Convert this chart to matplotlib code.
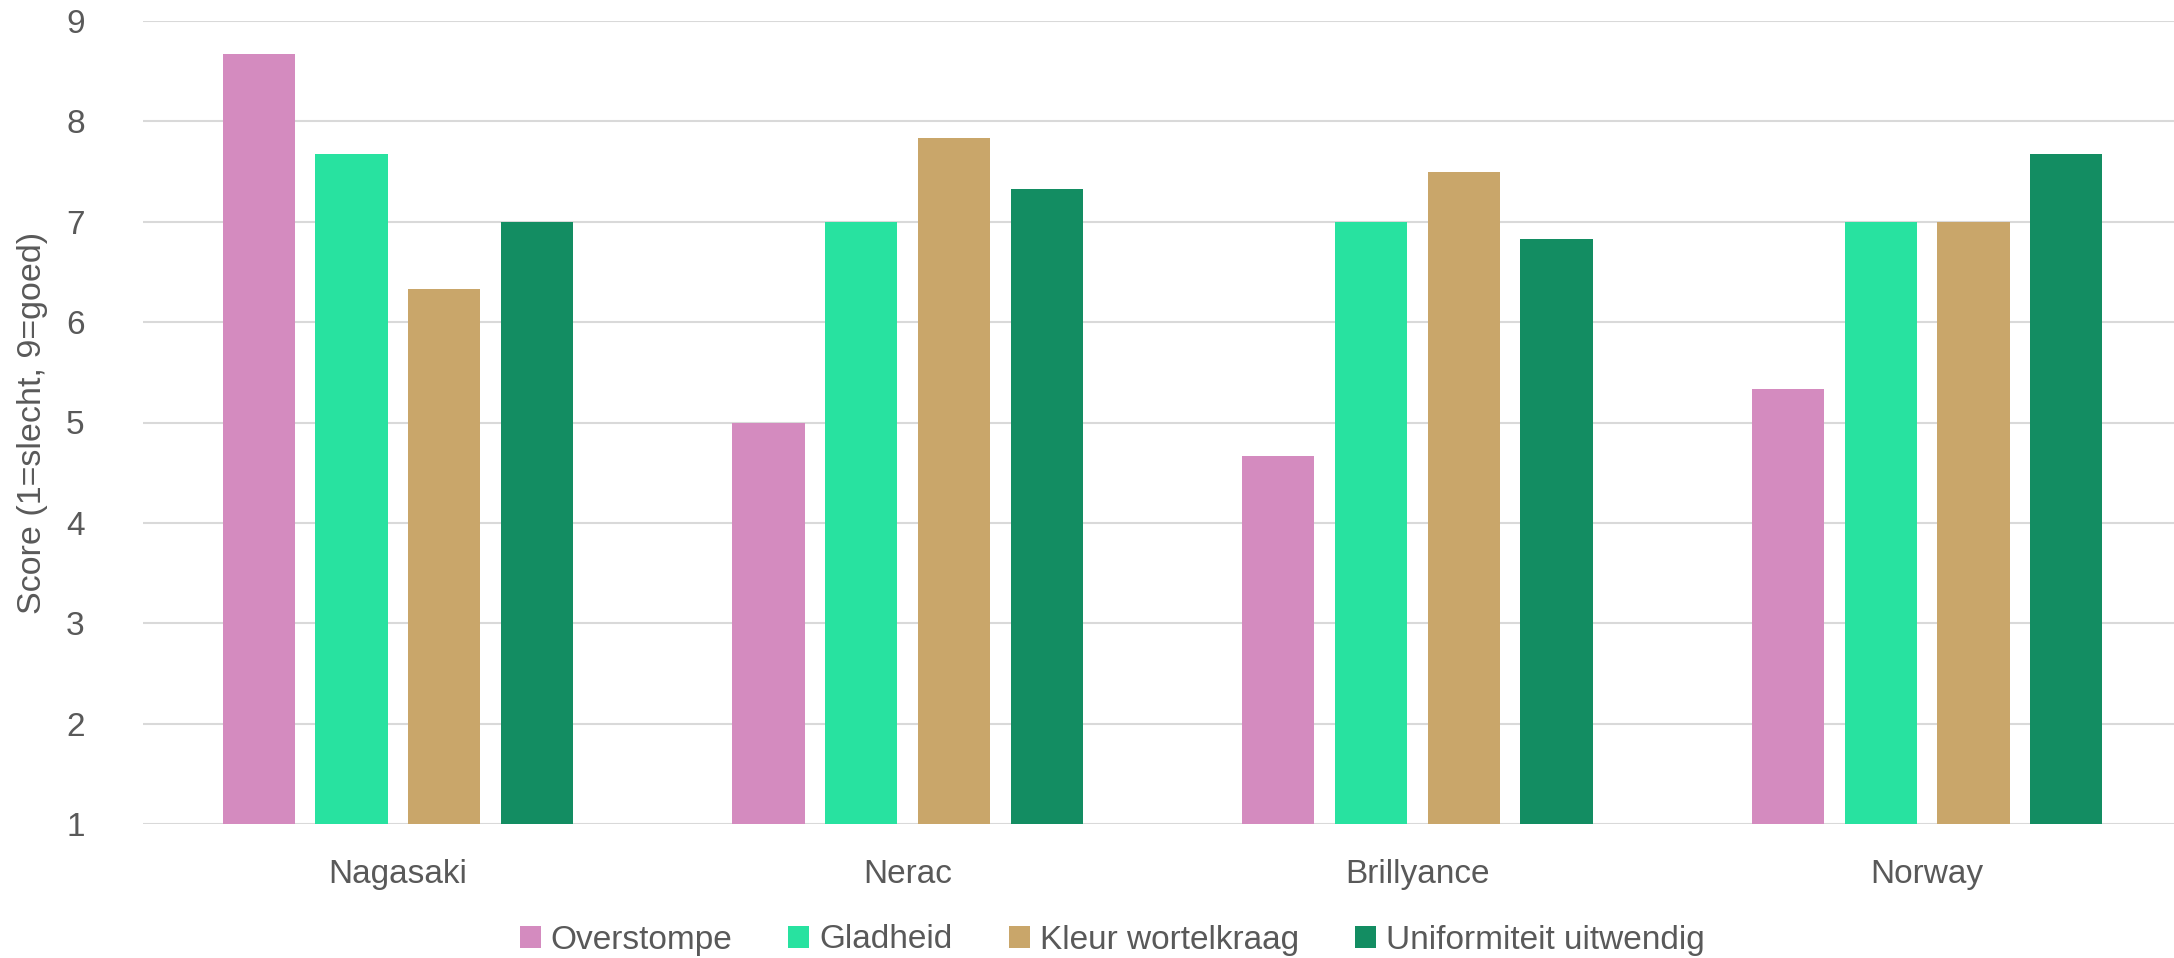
import matplotlib.pyplot as plt
import numpy as np

# data
categories = ['Nagasaki', 'Nerac', 'Brillyance', 'Norway']
series_names = ['Overstompe', 'Gladheid', 'Kleur wortelkraag', 'Uniformiteit uitwendig']
overstompe = [8.67, 5.0, 4.67, 5.33]
gladheid = [7.67, 7.0, 7.0, 7.0]
kleur = [6.33, 7.83, 7.5, 7.0]
uniformiteit = [7.0, 7.33, 6.83, 7.67]
colors = ['#D48BBF', '#28E2A0', '#C9A66A', '#138D62']

plt.rcParams['font.family'] = ['Liberation Sans', 'DejaVu Sans']
txt = '#595959'

fig = plt.figure(figsize=(21.74, 9.58), dpi=100)
left, right = 143, 2182
ax = fig.add_axes([left / 2174, 1 - 824 / 958, (right - left) / 2174, (824 - 21) / 958])

x = np.arange(len(categories))
width = 0.142
step = 0.182
all_series = [overstompe, gladheid, kleur, uniformiteit]
for i, vals in enumerate(all_series):
    offs = (i - 1.5) * step
    heights = [v - 1 for v in vals]
    ax.bar(x + offs, heights, width, bottom=1, color=colors[i], label=series_names[i], zorder=3)

ax.set_xlim(-0.5, 3.5)
ax.set_ylim(1, 9)
ax.set_yticks(range(1, 10))
ax.set_xticks(x)
ax.set_xticklabels(categories)
ax.grid(axis='y', color='#D9D9D9', linewidth=1.5, zorder=0)
for s in ax.spines.values():
    s.set_visible(False)
ax.tick_params(axis='both', length=0, labelsize=24, colors=txt)
ax.tick_params(axis='x', pad=25)
ax.tick_params(axis='y', pad=42)

ax.set_ylabel('Score (1=slecht, 9=goed)', fontsize=24.5, color=txt)
ax.yaxis.set_label_coords((48 - left) / (right - left), 0.5)

leg = fig.legend(loc='center', bbox_to_anchor=(0.5115, 1 - 940 / 958), ncol=4, frameon=False,
                 prop={'size': 24}, handlelength=0.63, handleheight=0.63,
                 handletextpad=0.3, columnspacing=1.68)
for t in leg.get_texts():
    t.set_color(txt)

fig.savefig('out.png', dpi=100)
